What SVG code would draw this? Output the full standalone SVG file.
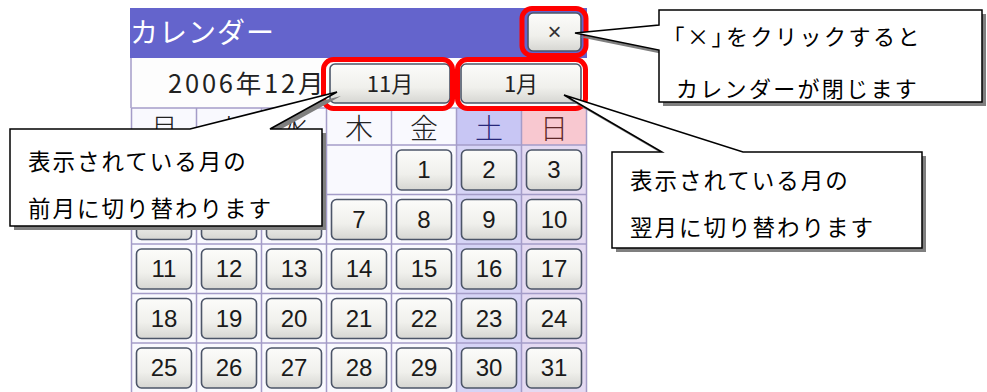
<svg xmlns="http://www.w3.org/2000/svg" width="987" height="392" viewBox="0 0 987 392">
<defs>
<linearGradient id="btn" x1="0" y1="0" x2="0" y2="1">
<stop offset="0" stop-color="#fcfcfa"/>
<stop offset="0.6" stop-color="#f0f0ec"/>
<stop offset="1" stop-color="#d6d6d2"/>
</linearGradient>
<style>
.btn{fill:url(#btn);stroke:#4c5568;stroke-width:1.6}
.red{fill:none;stroke:#ff0000;stroke-width:5}
.num{font-family:"Liberation Sans","Noto Sans CJK JP",sans-serif;font-size:24px;fill:#1a1a1a;text-anchor:middle}
.hd{font-family:"Noto Sans CJK JP",sans-serif;font-size:28px;font-weight:300;text-anchor:middle}
.jp{font-family:"Noto Sans CJK JP",sans-serif;fill:#000}
.half{font-feature-settings:"palt"}
.grid{stroke:#a49cc8;stroke-width:1.5;fill:none}
.call{fill:#ffffff;stroke:#000;stroke-width:1.5;stroke-linejoin:miter}
.shadow{fill:#7f7f7f}
.cw{fill:#f9f9fe}
.csat{fill:#d6d4f6}
.csun{fill:#e4daf2}
</style>
</defs>
<rect width="987" height="392" fill="#ffffff"/>
<g id="calendar">
<rect x="130" y="8" width="457" height="50" fill="#6464cc"/>
<text x="130" y="43" class="jp" font-size="28" style="fill:#ffffff" letter-spacing="1">カレンダー</text>
<rect x="130" y="58" width="457" height="50" fill="#fdfdfd"/>
<line x1="131" y1="58" x2="131" y2="108" class="grid"/>
<text x="168" y="93" class="jp" font-size="25.5" letter-spacing="2.8" style="fill:#222">2006年12月</text>
<rect x="131.5" y="108" width="325" height="284" class="cw"/>
<rect x="456.5" y="108" width="65" height="284" class="csat"/>
<rect x="521.5" y="108" width="65" height="284" class="csun"/>
<rect x="456.5" y="108" width="65" height="37" fill="#c8c6f4"/>
<rect x="521.5" y="108" width="65" height="37" fill="#f8c8d0"/>
<g class="grid">
<line x1="131.5" y1="108" x2="586.5" y2="108"/>
<line x1="131.5" y1="145" x2="586.5" y2="145"/>
<line x1="131.5" y1="194.5" x2="586.5" y2="194.5"/>
<line x1="131.5" y1="244" x2="586.5" y2="244"/>
<line x1="131.5" y1="293.5" x2="586.5" y2="293.5"/>
<line x1="131.5" y1="343" x2="586.5" y2="343"/>
<line x1="131.5" y1="108" x2="131.5" y2="392"/>
<line x1="196.5" y1="108" x2="196.5" y2="392"/>
<line x1="261.5" y1="108" x2="261.5" y2="392"/>
<line x1="326.5" y1="108" x2="326.5" y2="392"/>
<line x1="391.5" y1="108" x2="391.5" y2="392"/>
<line x1="456.5" y1="108" x2="456.5" y2="392"/>
<line x1="521.5" y1="108" x2="521.5" y2="392"/>
<line x1="586.5" y1="108" x2="586.5" y2="392"/>
</g>
<text x="164" y="139" class="hd" fill="#222">月</text>
<text x="229" y="139" class="hd" fill="#222">火</text>
<text x="294" y="139" class="hd" fill="#222">水</text>
<text x="359" y="139" class="hd" fill="#222">木</text>
<text x="424" y="139" class="hd" fill="#222">金</text>
<text x="489" y="139" class="hd" fill="#28287a">土</text>
<text x="554" y="139" class="hd" fill="#602828">日</text>
<g id="days">
<rect x="396.5" y="150" width="55" height="40" rx="5" class="btn"/><text x="424" y="178" class="num">1</text>
<rect x="461.5" y="150" width="55" height="40" rx="5" class="btn"/><text x="489" y="178" class="num">2</text>
<rect x="526.5" y="150" width="55" height="40" rx="5" class="btn"/><text x="554" y="178" class="num">3</text>
<rect x="136.5" y="199.5" width="55" height="40" rx="5" class="btn"/>
<rect x="201.5" y="199.5" width="55" height="40" rx="5" class="btn"/>
<rect x="266.5" y="199.5" width="55" height="40" rx="5" class="btn"/>
<rect x="331.5" y="199.5" width="55" height="40" rx="5" class="btn"/><text x="359" y="227.5" class="num">7</text>
<rect x="396.5" y="199.5" width="55" height="40" rx="5" class="btn"/><text x="424" y="227.5" class="num">8</text>
<rect x="461.5" y="199.5" width="55" height="40" rx="5" class="btn"/><text x="489" y="227.5" class="num">9</text>
<rect x="526.5" y="199.5" width="55" height="40" rx="5" class="btn"/><text x="554" y="227.5" class="num">10</text>
<rect x="136.5" y="249" width="55" height="40" rx="5" class="btn"/><text x="164" y="277" class="num">11</text>
<rect x="201.5" y="249" width="55" height="40" rx="5" class="btn"/><text x="229" y="277" class="num">12</text>
<rect x="266.5" y="249" width="55" height="40" rx="5" class="btn"/><text x="294" y="277" class="num">13</text>
<rect x="331.5" y="249" width="55" height="40" rx="5" class="btn"/><text x="359" y="277" class="num">14</text>
<rect x="396.5" y="249" width="55" height="40" rx="5" class="btn"/><text x="424" y="277" class="num">15</text>
<rect x="461.5" y="249" width="55" height="40" rx="5" class="btn"/><text x="489" y="277" class="num">16</text>
<rect x="526.5" y="249" width="55" height="40" rx="5" class="btn"/><text x="554" y="277" class="num">17</text>
<rect x="136.5" y="298.5" width="55" height="40" rx="5" class="btn"/><text x="164" y="326.5" class="num">18</text>
<rect x="201.5" y="298.5" width="55" height="40" rx="5" class="btn"/><text x="229" y="326.5" class="num">19</text>
<rect x="266.5" y="298.5" width="55" height="40" rx="5" class="btn"/><text x="294" y="326.5" class="num">20</text>
<rect x="331.5" y="298.5" width="55" height="40" rx="5" class="btn"/><text x="359" y="326.5" class="num">21</text>
<rect x="396.5" y="298.5" width="55" height="40" rx="5" class="btn"/><text x="424" y="326.5" class="num">22</text>
<rect x="461.5" y="298.5" width="55" height="40" rx="5" class="btn"/><text x="489" y="326.5" class="num">23</text>
<rect x="526.5" y="298.5" width="55" height="40" rx="5" class="btn"/><text x="554" y="326.5" class="num">24</text>
<rect x="136.5" y="348" width="55" height="40" rx="5" class="btn"/><text x="164" y="376" class="num">25</text>
<rect x="201.5" y="348" width="55" height="40" rx="5" class="btn"/><text x="229" y="376" class="num">26</text>
<rect x="266.5" y="348" width="55" height="40" rx="5" class="btn"/><text x="294" y="376" class="num">27</text>
<rect x="331.5" y="348" width="55" height="40" rx="5" class="btn"/><text x="359" y="376" class="num">28</text>
<rect x="396.5" y="348" width="55" height="40" rx="5" class="btn"/><text x="424" y="376" class="num">29</text>
<rect x="461.5" y="348" width="55" height="40" rx="5" class="btn"/><text x="489" y="376" class="num">30</text>
<rect x="526.5" y="348" width="55" height="40" rx="5" class="btn"/><text x="554" y="376" class="num">31</text>
</g>
</g>
<g id="close-button">
<rect x="528" y="13" width="53" height="38" rx="5" class="btn"/>
<text x="554.5" y="40" class="num" font-size="24" style="fill:#333">×</text>
<rect x="522" y="8.5" width="64" height="47" rx="10" class="red"/>
</g>
<g id="prev-button">
<rect x="330" y="64" width="120" height="39" rx="5" class="btn"/>
<text x="390" y="92" class="jp" font-size="22" text-anchor="middle" style="fill:#222">11月</text>
<rect x="323.5" y="59.5" width="129" height="49" rx="10" class="red"/>
</g>
<g id="next-button">
<rect x="461" y="64" width="120" height="39" rx="5" class="btn"/>
<text x="521" y="92" class="jp" font-size="22" text-anchor="middle" style="fill:#222">1月</text>
<rect x="457.5" y="59.5" width="128" height="49" rx="10" class="red"/>
</g>
<g id="callout-close">
<path class="shadow" transform="translate(4,4)" d="M659,10 L982,10 L982,102 L659,102 L659,50 L575,33 L659,25 Z"/>
<path class="call" d="M659,10 L982,10 L982,102 L659,102 L659,50 L575,33 L659,25 Z"/>
<text x="673" y="45" class="jp" font-size="22" letter-spacing="2.5"><tspan class="half" letter-spacing="3">「×」</tspan>をクリックすると</text>
<text x="676" y="97" class="jp" font-size="22" letter-spacing="2.3">カレンダーが閉じます</text>
</g>
<g id="callout-prev">
<path class="shadow" transform="translate(4,4)" d="M10,129 L190,129 L337,92 L270,129 L322,129 L322,226 L10,226 Z"/>
<path class="call" d="M10,129 L190,129 L337,92 L270,129 L322,129 L322,226 L10,226 Z"/>
<text x="28" y="170" class="jp" font-size="22.5" letter-spacing="2">表示されている月の</text>
<text x="28" y="217" class="jp" font-size="22.5" letter-spacing="2">前月に切り替わります</text>
</g>
<g id="callout-next">
<path class="shadow" transform="translate(4,4)" d="M612,152 L662,152 L564,95 L743,152 L922,152 L922,248 L612,248 Z"/>
<path class="call" d="M612,152 L662,152 L564,95 L743,152 L922,152 L922,248 L612,248 Z"/>
<text x="630" y="189" class="jp" font-size="22.5" letter-spacing="2">表示されている月の</text>
<text x="630" y="236" class="jp" font-size="22.5" letter-spacing="2">翌月に切り替わります</text>
</g>
<g id="connectors"/>
</svg>
